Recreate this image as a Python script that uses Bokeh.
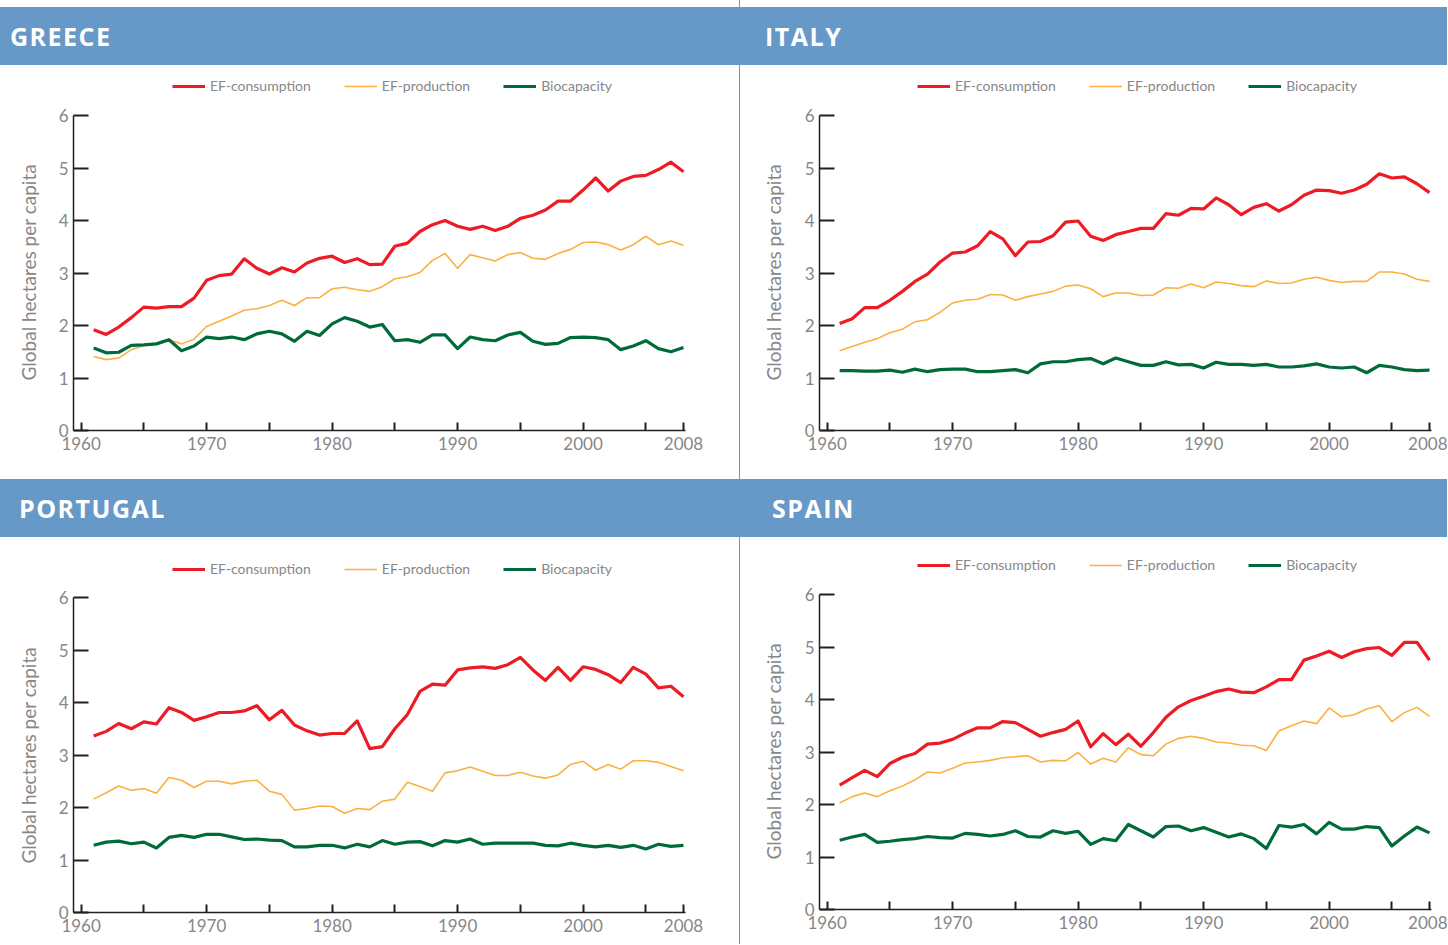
from bokeh.plotting import figure
from bokeh.models import Range1d, FixedTicker, Legend, LegendItem, Div, Title
from bokeh.layouts import row, column
from bokeh.embed import file_html
from bokeh.resources import INLINE

years = list(range(1961, 2009))

greece_consumption = [1.92, 1.83, 1.97, 2.15, 2.35, 2.33, 2.36, 2.36, 2.52, 2.86, 2.95, 2.98, 3.27, 3.09, 2.98, 3.10,
                      3.02, 3.19, 3.28, 3.32, 3.20, 3.27, 3.16, 3.17, 3.51, 3.57, 3.79, 3.92, 4.00, 3.89, 3.83, 3.89,
                      3.81, 3.89, 4.04, 4.10, 4.20, 4.37, 4.37, 4.58, 4.81, 4.56, 4.75, 4.84, 4.86, 4.97, 5.11, 4.93]
greece_production = [1.41, 1.35, 1.38, 1.54, 1.62, 1.65, 1.73, 1.65, 1.74, 1.98, 2.08, 2.18, 2.29, 2.32, 2.38, 2.48,
                     2.38, 2.53, 2.53, 2.70, 2.73, 2.68, 2.65, 2.74, 2.89, 2.93, 3.01, 3.24, 3.37, 3.09, 3.35, 3.29,
                     3.23, 3.35, 3.39, 3.28, 3.26, 3.37, 3.45, 3.58, 3.59, 3.54, 3.44, 3.54, 3.70, 3.54, 3.61, 3.53]
greece_biocapacity = [1.57, 1.48, 1.49, 1.62, 1.63, 1.65, 1.73, 1.52, 1.61, 1.78, 1.75, 1.78, 1.73, 1.84, 1.89, 1.84,
                      1.70, 1.89, 1.81, 2.03, 2.15, 2.08, 1.97, 2.02, 1.71, 1.73, 1.68, 1.82, 1.82, 1.56, 1.78, 1.73,
                      1.71, 1.82, 1.87, 1.70, 1.64, 1.66, 1.77, 1.78, 1.77, 1.73, 1.54, 1.61, 1.71, 1.56, 1.50, 1.58]

italy_consumption = [2.04, 2.13, 2.34, 2.34, 2.48, 2.65, 2.84, 2.98, 3.21, 3.38, 3.40, 3.52, 3.79, 3.65, 3.33, 3.59,
                     3.60, 3.71, 3.97, 3.99, 3.70, 3.62, 3.73, 3.79, 3.85, 3.85, 4.13, 4.10, 4.23, 4.22, 4.43, 4.30,
                     4.11, 4.25, 4.32, 4.18, 4.30, 4.48, 4.58, 4.57, 4.52, 4.58, 4.69, 4.89, 4.81, 4.83, 4.70, 4.53]
italy_production = [1.52, 1.60, 1.68, 1.75, 1.86, 1.93, 2.07, 2.11, 2.25, 2.43, 2.48, 2.50, 2.59, 2.58, 2.48, 2.55,
                    2.60, 2.65, 2.75, 2.77, 2.70, 2.55, 2.62, 2.62, 2.57, 2.58, 2.72, 2.71, 2.79, 2.72, 2.83, 2.80,
                    2.76, 2.74, 2.85, 2.80, 2.81, 2.88, 2.92, 2.86, 2.82, 2.84, 2.84, 3.02, 3.02, 2.98, 2.88, 2.84]
italy_biocapacity = [1.14, 1.14, 1.13, 1.13, 1.15, 1.11, 1.17, 1.12, 1.16, 1.17, 1.17, 1.12, 1.12, 1.14, 1.16, 1.10,
                     1.27, 1.31, 1.31, 1.35, 1.37, 1.27, 1.38, 1.31, 1.24, 1.24, 1.31, 1.25, 1.26, 1.19, 1.30, 1.26,
                     1.26, 1.24, 1.26, 1.21, 1.21, 1.23, 1.27, 1.21, 1.19, 1.21, 1.10, 1.24, 1.21, 1.16, 1.14, 1.15]

portugal_consumption = [3.36, 3.45, 3.60, 3.50, 3.63, 3.59, 3.90, 3.81, 3.66, 3.73, 3.81, 3.81, 3.84, 3.94, 3.67, 3.85,
                        3.57, 3.46, 3.38, 3.41, 3.41, 3.65, 3.12, 3.16, 3.50, 3.77, 4.21, 4.35, 4.33, 4.62, 4.66, 4.68,
                        4.65, 4.72, 4.86, 4.62, 4.42, 4.67, 4.42, 4.68, 4.63, 4.53, 4.38, 4.67, 4.54, 4.28, 4.31, 4.11]
portugal_production = [2.16, 2.28, 2.41, 2.33, 2.36, 2.27, 2.57, 2.52, 2.38, 2.50, 2.50, 2.45, 2.50, 2.52, 2.31, 2.25,
                       1.95, 1.98, 2.03, 2.02, 1.89, 1.98, 1.96, 2.12, 2.16, 2.48, 2.40, 2.31, 2.66, 2.70, 2.77, 2.69,
                       2.61, 2.61, 2.67, 2.60, 2.56, 2.62, 2.82, 2.88, 2.71, 2.82, 2.73, 2.89, 2.89, 2.86, 2.78, 2.70]
portugal_biocapacity = [1.28, 1.34, 1.36, 1.31, 1.34, 1.23, 1.43, 1.47, 1.43, 1.49, 1.49, 1.44, 1.39, 1.40, 1.38, 1.37,
                        1.25, 1.25, 1.28, 1.28, 1.23, 1.30, 1.25, 1.37, 1.30, 1.34, 1.35, 1.27, 1.37, 1.34, 1.40, 1.30,
                        1.32, 1.32, 1.32, 1.32, 1.28, 1.27, 1.32, 1.28, 1.25, 1.28, 1.24, 1.28, 1.21, 1.30, 1.26, 1.28]

spain_consumption = [2.37, 2.51, 2.65, 2.53, 2.78, 2.90, 2.97, 3.15, 3.17, 3.24, 3.36, 3.46, 3.46, 3.58, 3.56, 3.43,
                     3.30, 3.37, 3.43, 3.59, 3.10, 3.35, 3.14, 3.34, 3.11, 3.37, 3.66, 3.86, 3.98, 4.06, 4.15, 4.20,
                     4.14, 4.13, 4.24, 4.38, 4.38, 4.75, 4.83, 4.92, 4.80, 4.91, 4.97, 4.99, 4.84, 5.09, 5.09, 4.75]
spain_production = [2.03, 2.15, 2.22, 2.15, 2.26, 2.35, 2.47, 2.62, 2.60, 2.69, 2.79, 2.81, 2.84, 2.89, 2.91, 2.93,
                    2.81, 2.84, 2.83, 2.99, 2.77, 2.88, 2.81, 3.08, 2.95, 2.93, 3.15, 3.26, 3.30, 3.26, 3.19, 3.17,
                    3.13, 3.12, 3.03, 3.40, 3.50, 3.59, 3.54, 3.84, 3.67, 3.71, 3.82, 3.88, 3.58, 3.75, 3.85, 3.68]
spain_biocapacity = [1.32, 1.38, 1.43, 1.28, 1.30, 1.33, 1.35, 1.39, 1.37, 1.36, 1.45, 1.43, 1.40, 1.43, 1.50, 1.39,
                     1.38, 1.50, 1.45, 1.49, 1.24, 1.35, 1.31, 1.62, 1.50, 1.38, 1.58, 1.59, 1.50, 1.56, 1.47, 1.38,
                     1.44, 1.35, 1.16, 1.60, 1.57, 1.62, 1.44, 1.66, 1.53, 1.53, 1.58, 1.56, 1.21, 1.40, 1.57, 1.46]

x_ticks = [1960, 1970, 1980, 1990, 2000, 2008]
x_minor_ticks = [1965, 1975, 1985, 1995, 2005]
y_ticks = [0, 1, 2, 3, 4, 5, 6]
series_labels = ["EF-consumption", "EF-production", "Biocapacity"]
y_label = "Global hectares per capita"

RED = "#ed1c24"
ORANGE = "#fbb040"
GREEN = "#006b3a"
BLUE = "#6699c8"
TEXT = "#878787"
AXIS = "#231f20"

PX_PER_UNIT = 52.5   # vertical pixels per hectare unit
TOP_PAD = 5


def panel(cons, prod, bio, width, height, left, right, bottom, legend_x, legend_y,
          label_offset, label_standoff):
    frame_h = height - TOP_PAD - bottom
    y_end = frame_h / PX_PER_UNIT
    p = figure(width=width, height=height,
               x_range=Range1d(1959.394, 2008.16), y_range=Range1d(0, y_end),
               output_backend="svg", toolbar_location=None,
               min_border_left=left, min_border_right=right,
               min_border_top=TOP_PAD, min_border_bottom=bottom)
    p.outline_line_color = None
    p.xgrid.visible = False
    p.ygrid.visible = False
    p.background_fill_color = "white"
    p.border_fill_color = "white"

    r_prod = p.line(years, prod, line_color=ORANGE, line_width=1.6, line_join="round")
    r_bio = p.line(years, bio, line_color=GREEN, line_width=3.2, line_join="round")
    r_cons = p.line(years, cons, line_color=RED, line_width=3.2, line_join="round")

    for ax in (p.xaxis[0], p.yaxis[0]):
        ax.axis_line_color = AXIS
        ax.axis_line_width = 1.5
        ax.major_tick_line_color = AXIS
        ax.major_tick_line_width = 2
        ax.minor_tick_line_color = AXIS
        ax.minor_tick_line_width = 2
        ax.major_tick_out = 0
        ax.minor_tick_out = 0
        ax.major_label_text_font = "Lato"
        ax.major_label_text_font_size = "17px"
        ax.major_label_text_color = TEXT

    xa = p.xaxis[0]
    xa.ticker = FixedTicker(ticks=x_ticks, minor_ticks=x_minor_ticks)
    xa.major_tick_in = 8
    xa.minor_tick_in = 8
    xa.major_label_standoff = 6

    ya = p.yaxis[0]
    ya.ticker = FixedTicker(ticks=y_ticks)
    ya.bounds = (0, 6)
    ya.major_tick_in = 15
    ya.minor_tick_in = 0
    ya.major_label_standoff = 5

    # axis title placed along the 0-6 part of the axis
    p.add_layout(Title(text=y_label, align="left", offset=label_offset,
                       vertical_align="middle",
                       text_font="Lato", text_font_size="19px",
                       text_font_style="normal", text_color=TEXT,
                       standoff=label_standoff), "left")

    legend = Legend(items=[LegendItem(label=series_labels[0], renderers=[r_cons]),
                           LegendItem(label=series_labels[1], renderers=[r_prod]),
                           LegendItem(label=series_labels[2], renderers=[r_bio])],
                    orientation="horizontal", location=(legend_x, legend_y),
                    padding=0, margin=0, spacing=33,
                    glyph_width=33, glyph_height=16, label_height=16, label_standoff=5,
                    label_text_font="Lato", label_text_font_size="14px",
                    label_text_color=TEXT, border_line_color=None,
                    background_fill_alpha=0)
    p.add_layout(legend)
    return p


def header(name, width, height, pad):
    html = (f'<div style="width:{width}px;height:{height}px;line-height:{height}px;'
            f'background:{BLUE};color:#ffffff;font-family:\'Open Sans\',sans-serif;'
            f'font-weight:700;font-size:25px;letter-spacing:1.5px;padding-left:{pad}px;'
            f'box-sizing:border-box;white-space:nowrap;overflow:hidden;">{name}</div>')
    return Div(text=html, width=width, height=height, margin=0,
               styles={"background-color": BLUE})


def spacer(width, height):
    return Div(text="", width=width, height=height, margin=0)


LW, RW = 739, 707

g = panel(greece_consumption, greece_production, greece_biocapacity, LW, 414, 73, 54, 49, 99, 336, 50, 29)
i = panel(italy_consumption, italy_production, italy_biocapacity, RW, 414, 79, 16, 49, 98, 336, 50, 32)
pt = panel(portugal_consumption, portugal_production, portugal_biocapacity, LW, 407, 73, 54, 32, 99, 335, 49, 29)
s = panel(spain_consumption, spain_production, spain_biocapacity, RW, 407, 79, 16, 35, 98, 336, 50, 32)

sep = Div(text="", width=1, height=944, margin=0, styles={"background-color": "#8c8c8c"})

left_col = column(spacer(LW, 7), header("GREECE", LW, 58, 10), g,
                  header("PORTUGAL", LW, 58, 19), pt)
right_col = column(spacer(RW, 7), header("ITALY", RW, 58, 25), i,
                   header("SPAIN", RW, 58, 32), s)
layout = row(left_col, sep, right_col)

open("out.html", "w").write(file_html(layout, INLINE))
